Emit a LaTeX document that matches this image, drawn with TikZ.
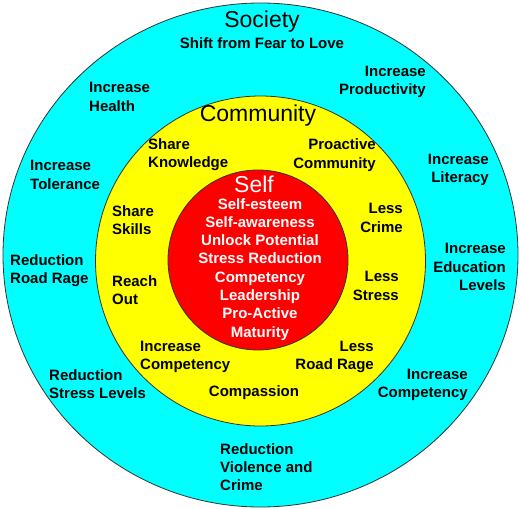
\documentclass[tikz,border=0pt]{standalone}
\usepackage{fontspec}
\setmainfont{Liberation Sans}
\definecolor{ringcyan}{RGB}{0,255,255}
\definecolor{ringyellow}{RGB}{255,255,0}
\definecolor{ringred}{RGB}{255,0,0}
\tikzset{
  ring/.style={draw=black!80, line width=0.8pt},
  lbl/.style={inner sep=0pt, font=\fontsize{15}{18.3}\selectfont\bfseries},
  ttl/.style={inner sep=0pt, font=\fontsize{23}{26}\selectfont},
  lft/.style={lbl, align=left, anchor=west},
  rgt/.style={lbl, align=right, anchor=east},
  ctr/.style={lbl, align=center, anchor=center},
}
\begin{document}
\begin{tikzpicture}[x=1pt,y=-1pt]
\useasboundingbox (0,0) rectangle (520,509);
\fill[white] (0,0) rectangle (520,509);
% rings
\draw[ring, fill=ringcyan] (260.5,255) ellipse [x radius=257.5, y radius=252];
\draw[ring, fill=ringyellow] (260.5,261) circle [radius=165];
\draw[ring, fill=ringred] (258,260) circle [radius=90];
% society
\node[ttl] (society) at (262,21.5) {Society};
\node[ctr] (shift) at (262,43) {Shift from Fear to Love};
\node[lft] (health) at (89,97) {Increase\\Health};
\node[rgt] (prod) at (426,82) {Increase\\Productivity};
\node[lft] (toler) at (30,175) {Increase\\Tolerance};
\node[rgt] (liter) at (489,170) {Increase\\Literacy};
\node[lft] (roadrage) at (10,271) {Reduction\\Road Rage};
\node[rgt] (educ) at (506,267) {Increase\\Education\\Levels};
\node[lft] (stresslev) at (49,384) {Reduction\\Stress Levels};
\node[rgt] (compout) at (468,385) {Increase\\Competency};
\node[lft] (violence) at (220,467) {Reduction\\Violence and\\Crime};
% community
\node[ttl] (community) at (258,115.5) {Community};
\node[lft] (knowledge) at (148,155) {Share\\Knowledge};
\node[rgt] (proactive) at (376,155) {Proactive\\Community};
\node[lft] (skills) at (112,220) {Share\\Skills};
\node[rgt] (crime) at (403,218) {Less\\Crime};
\node[lft] (reach) at (112,290) {Reach\\Out};
\node[rgt] (stress) at (399,286) {Less\\Stress};
\node[lft] (compin) at (140,357) {Increase\\Competency};
\node[rgt] (lessroad) at (374,357) {Less\\Road Rage};
\node[ctr] (compassion) at (254,393) {Compassion};
% self
\node[ttl, text=white] (self) at (254,184) {Self};
\node[ctr, text=white, anchor=north] (selflist) at (260,198) {Self-esteem\\Self-awareness\\Unlock Potential\\Stress Reduction\\Competency\\Leadership\\Pro-Active\\Maturity};
\end{tikzpicture}
\end{document}
